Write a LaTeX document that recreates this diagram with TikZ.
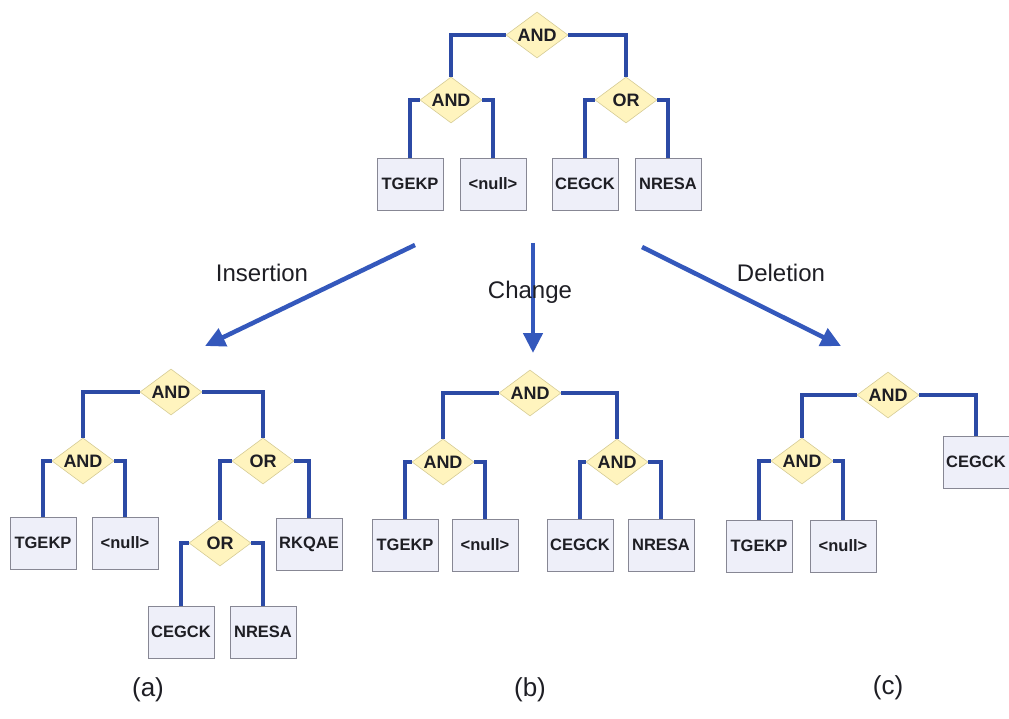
\documentclass[tikz,border=0pt]{standalone}
\usepackage{fontspec}
\setmainfont{Liberation Sans}
\usetikzlibrary{shapes.geometric,arrows.meta}
\definecolor{linkblue}{RGB}{44,74,165}
\definecolor{arrowblue}{RGB}{52,88,188}
\definecolor{gatefill}{RGB}{255,244,190}
\definecolor{gateline}{RGB}{214,204,150}
\definecolor{leaffill}{RGB}{238,239,249}
\definecolor{leafline}{RGB}{135,135,148}
\definecolor{inktext}{RGB}{30,30,36}
\tikzset{
  gate/.style={diamond, aspect=1.35, inner sep=0pt, minimum width=62pt, minimum height=46pt,
    fill=gatefill, draw=gateline, line width=0.6pt, text=inktext,
    font=\fontsize{18}{18}\selectfont\bfseries},
  leaf/.style={rectangle, minimum width=66pt, minimum height=52pt, inner sep=0pt,
    fill=leaffill, draw=leafline, line width=0.8pt, text=inktext,
    font=\fontsize{16.5}{16.5}\selectfont\bfseries},
  link/.style={draw=linkblue, line width=3.2pt},
  edit/.style={draw=arrowblue, line width=4.5pt, -{Triangle[length=20pt,width=19pt]}},
  editlabel/.style={font=\fontsize{24}{24}\selectfont, text=inktext},
  caption/.style={font=\fontsize{26}{26}\selectfont, text=inktext}
}
\begin{document}
\begin{tikzpicture}[x=1pt,y=-1pt]
\useasboundingbox (0,0) rectangle (1009,719);

% original tree
\node[gate] (t0) at (537,35) {AND};
\node[gate] (t1) at (451,100) {AND};
\node[gate] (t2) at (626,100) {OR};
\node[leaf] (t11) at (410,184) {TGEKP};
\node[leaf] (t12) at (493,184) {<null>};
\node[leaf] (t21) at (585,184) {CEGCK};
\node[leaf] (t22) at (668,184) {NRESA};
\draw[link] (t0.west) -| (t1.north);
\draw[link] (t0.east) -| (t2.north);
\draw[link] (t1.west) -| (t11.north);
\draw[link] (t1.east) -| (t12.north);
\draw[link] (t2.west) -| (t21.north);
\draw[link] (t2.east) -| (t22.north);

% edit operations
\coordinate (insA) at (415,245);
\coordinate (insB) at (205,346);
\coordinate (chgA) at (533,243);
\coordinate (chgB) at (533,353);
\coordinate (delA) at (642,247);
\coordinate (delB) at (841,346);
\draw[edit] (insA) -- (insB);
\draw[edit] (chgA) -- (chgB);
\draw[edit] (delA) -- (delB);
\node[editlabel] (insL) at (262,273) {Insertion};
\node[editlabel] (chgL) at (530,292) {Change};
\node[editlabel] (delL) at (781,273) {Deletion};

% (a) after insertion
\node[gate] (a0) at (171,392) {AND};
\node[gate] (a1) at (83,461) {AND};
\node[gate] (a2) at (263,461) {OR};
\node[leaf] (a11) at (43,543) {TGEKP};
\node[leaf] (a12) at (125,543) {<null>};
\node[gate] (a21) at (220,543) {OR};
\node[leaf] (a22) at (309,544) {RKQAE};
\node[leaf] (a211) at (181,632) {CEGCK};
\node[leaf] (a212) at (263,632) {NRESA};
\draw[link] (a0.west) -| (a1.north);
\draw[link] (a0.east) -| (a2.north);
\draw[link] (a1.west) -| (a11.north);
\draw[link] (a1.east) -| (a12.north);
\draw[link] (a2.west) -| (a21.north);
\draw[link] (a2.east) -| (a22.north);
\draw[link] (a21.west) -| (a211.north);
\draw[link] (a21.east) -| (a212.north);

% (b) after change
\node[gate] (b0) at (530,393) {AND};
\node[gate] (b1) at (443,462) {AND};
\node[gate] (b2) at (617,462) {AND};
\node[leaf] (b11) at (405,545) {TGEKP};
\node[leaf] (b12) at (485,545) {<null>};
\node[leaf] (b21) at (580,545) {CEGCK};
\node[leaf] (b22) at (661,545) {NRESA};
\draw[link] (b0.west) -| (b1.north);
\draw[link] (b0.east) -| (b2.north);
\draw[link] (b1.west) -| (b11.north);
\draw[link] (b1.east) -| (b12.north);
\draw[link] (b2.west) -| (b21.north);
\draw[link] (b2.east) -| (b22.north);

% (c) after deletion
\node[gate] (c0) at (888,395) {AND};
\node[gate] (c1) at (802,461) {AND};
\node[leaf] (c2) at (976,462) {CEGCK};
\node[leaf] (c11) at (759,546) {TGEKP};
\node[leaf] (c12) at (843,546) {<null>};
\draw[link] (c0.west) -| (c1.north);
\draw[link] (c0.east) -| (c2.north);
\draw[link] (c1.west) -| (c11.north);
\draw[link] (c1.east) -| (c12.north);

% captions
\node[caption] (capa) at (148,690) {(a)};
\node[caption] (capb) at (530,690) {(b)};
\node[caption] (capc) at (888,688) {(c)};
\end{tikzpicture}
\end{document}
